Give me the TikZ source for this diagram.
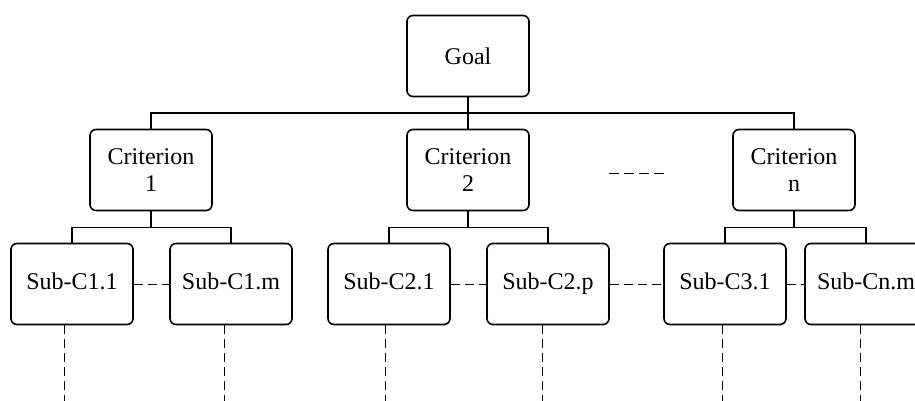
\documentclass[tikz,border=0pt]{standalone}
\usepackage{fontspec}
\setmainfont{Liberation Serif}
\usetikzlibrary{calc}
\begin{document}
\begin{tikzpicture}[x=1pt,y=-1pt,
  basebox/.style={draw,line width=1.6pt,rounded corners=6pt,minimum width=122pt,minimum height=81pt,inner sep=0pt,font=\fontsize{24}{27}\selectfont},
  box/.style={basebox,align=center},
  subbox/.style={basebox,text height=16pt,text depth=5pt},
  link/.style={line width=1.6pt},
  dots/.style={line width=0.9pt,dash pattern=on 9pt off 5pt}]
\useasboundingbox (0,0) rectangle (915,401);
\node[box] (goal) at (468,56) {Goal};
\node[box] (c1) at (151,170) {Criterion\\1};
\node[box] (c2) at (468,170) {Criterion\\2};
\node[box] (cn) at (794,170) {Criterion\\n};
\node[subbox] (s11) at (72,284) {Sub-C1.1};
\node[subbox] (s1m) at (231,284) {Sub-C1.m};
\node[subbox] (s21) at (389,284) {Sub-C2.1};
\node[subbox] (s2p) at (548,284) {Sub-C2.p};
\node[subbox] (s31) at (725,284) {Sub-C3.1};
\node[subbox] (snm) at (866,284) {Sub-Cn.m};
% goal to criteria
\draw[link] (goal.south) -- ++(0,16) coordinate (gb) -| (c1.north);
\draw[link] (gb) -| (cn.north);
\draw[link] (gb) -- (c2.north);
% criteria to subs
\draw[link] (c1.south) -- ++(0,16) coordinate (b1) -| (s11.north);
\draw[link] (b1) -| (s1m.north);
\draw[link] (c2.south) -- ++(0,16) coordinate (b2) -| (s21.north);
\draw[link] (b2) -| (s2p.north);
\draw[link] (cn.south) -- ++(0,16) coordinate (bn) -| (s31.north);
\draw[link] (bn) -| (snm.north);
% dashed between subs
\draw[dots] (s11.east) -- (s1m.west);
\draw[dots] (s21.east) -- (s2p.west);
\draw[dots] (s2p.east) -- (s31.west);
\draw[dots] (s31.east) -- (snm.west);
% ellipsis between criteria
\coordinate (e1) at (609,173);
\coordinate (e2) at (664,173);
\draw[line width=1pt,dash pattern=on 10pt off 5pt] (e1) -- (e2);
% dashed downward
\foreach \n/\d in {s11/-8,s1m/-7,s21/-4,s2p/-6,s31/-3,snm/-6}{
  \draw[dots] ([xshift=\d pt]\n.south) -- ++(0,80);
}
\end{tikzpicture}
\end{document}
